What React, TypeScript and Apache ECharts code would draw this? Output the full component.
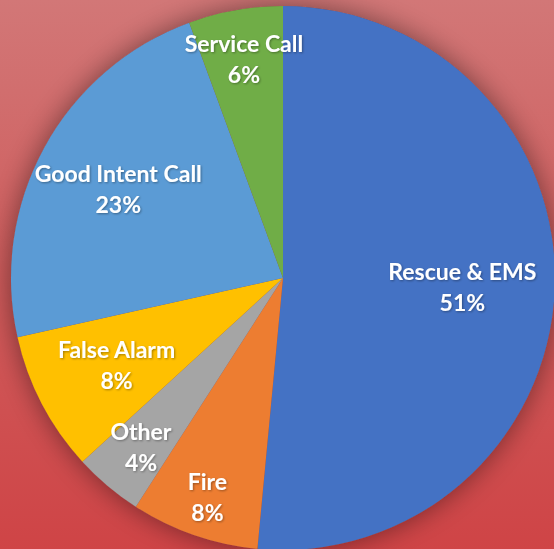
import React, { useEffect, useRef } from "react";
import * as echarts from "echarts";

const categories = ["Rescue & EMS", "Fire", "Other", "False Alarm", "Good Intent Call", "Service Call"];
const values = [51.5, 7.6, 4.1, 8.3, 22.9, 5.6];
const colors = ["#4472C4", "#ED7D31", "#A5A5A5", "#FFC000", "#5B9BD5", "#70AD47"];
// radial position of each label, as a fraction of the radius
const labelRadius = [0.66, 0.85, 0.81, 0.69, 0.69, 0.82];

const CX = 283;
const CY = 278;
const R = 272;

export default function App() {
  const ref = useRef<HTMLDivElement>(null);
  useEffect(() => {
    if (!ref.current) return;
    const chart = echarts.init(ref.current, undefined, { renderer: "svg" });
    chart.setOption({
      animation: false,
      backgroundColor: {
        type: "linear",
        x: 0,
        y: 0,
        x2: 0,
        y2: 1,
        colorStops: [
          { offset: 0, color: "#D27777" },
          { offset: 0.5, color: "#CF5C5C" },
          { offset: 1, color: "#CF4446" },
        ],
      },
      series: [
        {
          type: "pie",
          z: 1,
          silent: true,
          center: [CX, CY],
          radius: [0, R],
          label: { show: false },
          labelLine: { show: false },
          itemStyle: {
            color: "#8a4a4a",
            shadowBlur: 28,
            shadowColor: "rgba(0,0,0,0.45)",
          },
          data: [{ value: 1, name: "shadow" }],
        },
        {
          type: "pie",
          z: 2,
          center: [CX, CY],
          radius: [0, R],
          startAngle: 90,
          clockwise: true,
          percentPrecision: 0,
          label: {
            show: true,
            position: "inside",
            formatter: "{b}\n{d}%",
            color: "#ffffff",
            fontFamily: "Lato",
            fontWeight: "bold",
            fontSize: 23,
            lineHeight: 31,
            textShadowColor: "rgba(0,0,0,0.35)",
            textShadowBlur: 2,
            textShadowOffsetX: 1,
            textShadowOffsetY: 1,
          },
          labelLine: { show: false },
          labelLayout: (params: any) => {
            const lr = params.labelRect;
            const lx = lr.x + lr.width / 2;
            const ly = lr.y + lr.height / 2;
            const vx = lx - CX;
            const vy = ly - CY;
            const len = Math.sqrt(vx * vx + vy * vy) || 1;
            const k = labelRadius[params.dataIndex] * R;
            return { x: CX + (vx / len) * k, y: CY + (vy / len) * k };
          },
          itemStyle: { borderWidth: 0 },
          data: categories.map((name, i) => ({
            name,
            value: values[i],
            itemStyle: { color: colors[i] },
          })),
        },
      ],
    });
    return () => chart.dispose();
  }, []);
  return (
    <div
      ref={ref}
      style={{ position: "fixed", left: 0, top: 0, width: 554, height: 549 }}
    />
  );
}
